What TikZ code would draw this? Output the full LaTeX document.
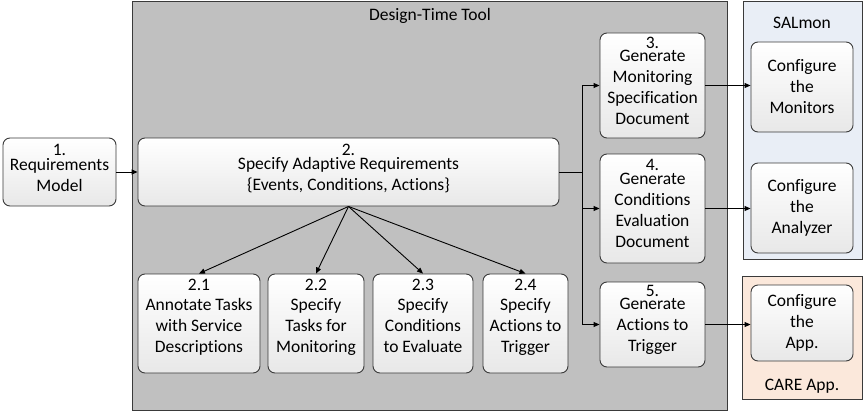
\documentclass[tikz,border=0pt]{standalone}
\usepackage{fontspec}
\setmainfont{Carlito}[Ligatures={NoCommon,NoContextual}]
\usetikzlibrary{arrows.meta}
\definecolor{toolgray}{HTML}{C0C0C0}
\definecolor{salbg}{HTML}{E9EEF6}
\definecolor{carebg}{HTML}{FBE8DB}
\definecolor{edgecol}{HTML}{3A3A3A}
\newcommand\diagfont{\fontsize{17.5}{21}\selectfont}
\begin{document}
\begin{tikzpicture}[x=1pt,y=-1pt,font=\diagfont,
  proc/.style={draw=edgecol, line width=0.9pt, rounded corners=7pt,
    top color=white, bottom color=black!9, inner sep=0pt, align=center},
  numtxt/.style={anchor=north, align=center, inner sep=5pt, font=\diagfont},
  area/.style={draw=edgecol, line width=1pt},
  conn/.style={line width=0.9pt, -{Triangle[length=6pt,width=5pt]}},
  plain/.style={line width=0.9pt},
  ttl/.style={font=\diagfont, inner sep=0pt}]
\useasboundingbox (0,0) rectangle (867,420);
\fill[white] (0,0) rectangle (867,420);
% containers
\node[area, fill=toolgray, minimum width=595pt, minimum height=408pt, inner sep=0pt] (tool) at (429.5,206) {};
\node[area, fill=salbg, minimum width=119pt, minimum height=257pt, inner sep=0pt] (sal) at (802.5,130.5) {};
\node[area, fill=carebg, minimum width=120pt, minimum height=123pt, inner sep=0pt] (care) at (802,337.5) {};
\node[ttl] (tooltitle) at (430,16) {Design-Time Tool};
\node[ttl] (saltitle) at (802,23) {SALmon};
\node[ttl] (caretitle) at (802,386) {CARE App.};
% step nodes
\node[proc, minimum width=113pt, minimum height=68pt,
  label={[numtxt, inner sep=6pt]north:{1.\\[-6pt]Requirements\\Model}}] (n1) at (59.5,172) {};
\node[proc, minimum width=421pt, minimum height=68pt,
  label={[numtxt, inner sep=6pt]north:{2.\\[-7pt]Specify Adaptive Requirements\\\{Events, Conditions, Actions\}}}] (n2) at (348.5,172) {};
\node[proc, minimum width=122pt, minimum height=99pt,
  label={[numtxt]north:{2.1\\[-1pt]Annotate Tasks\\with Service\\Descriptions}}] (n21) at (199,323.5) {};
\node[proc, minimum width=96pt, minimum height=99pt,
  label={[numtxt]north:{2.2\\[-1pt]Specify\\Tasks for\\Monitoring}}] (n22) at (316,323.5) {};
\node[proc, minimum width=100pt, minimum height=99pt,
  label={[numtxt]north:{2.3\\[-1pt]Specify\\Conditions\\to Evaluate}}] (n23) at (423,323.5) {};
\node[proc, minimum width=85pt, minimum height=99pt,
  label={[numtxt]north:{2.4\\[-1pt]Specify\\Actions to\\Trigger}}] (n24) at (525.5,323.5) {};
\node[proc, minimum width=105pt, minimum height=105pt,
  label={[numtxt, inner sep=4.5pt]north:{3.\\[-8pt]Generate\\Monitoring\\Specification\\Document}}] (n3) at (652.5,85.5) {};
\node[proc, minimum width=105pt, minimum height=109pt,
  label={[numtxt, inner sep=5.5pt]north:{4.\\[-6.5pt]Generate\\Conditions\\Evaluation\\Document}}] (n4) at (652.5,208.5) {};
\node[proc, minimum width=105pt, minimum height=85pt,
  label={[numtxt, inner sep=3.5pt]north:{5.\\[-8pt]Generate\\Actions to\\Trigger}}] (n5) at (652.5,324.5) {};
\node[proc, minimum width=102pt, minimum height=90pt] (m1) at (802,87) {Configure\\the\\Monitors};
\node[proc, minimum width=102pt, minimum height=90pt] (m2) at (802,208) {Configure\\the\\Analyzer};
\node[proc, minimum width=102pt, minimum height=76pt] (m3) at (802,323) {Configure\\the\\App.};
% connectors
\draw[conn] (n1.east) -- (n2.west);
\draw[conn] (n2.south) -- (n21.north);
\draw[conn] (n2.south) -- (n22.north);
\draw[conn] (n2.south) -- (n23.north);
\draw[conn] (n2.south) -- (n24.north);
\coordinate (j) at (582,172);
\draw[plain] (n2.east) -- (j);
\draw[conn] (j) |- (n3.west);
\draw[conn] (j) |- (n4.west);
\draw[conn] (j) |- (n5.west);
\draw[conn] (n3.east) -- (n3.east -| m1.west);
\draw[conn] (n4.east) -- (n4.east -| m2.west);
\draw[conn] (n5.east) -- (n5.east -| m3.west);
\end{tikzpicture}
\end{document}
